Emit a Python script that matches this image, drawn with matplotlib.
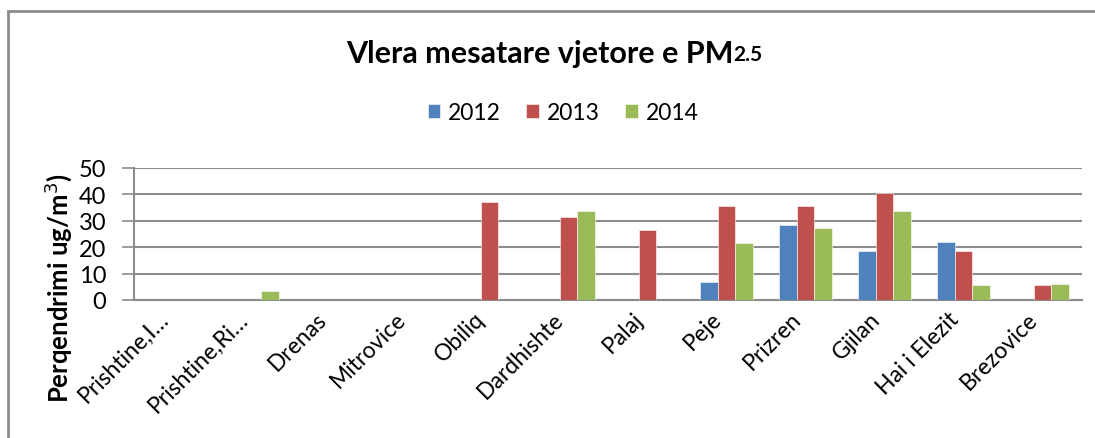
import numpy as np
import matplotlib
matplotlib.use("Agg")
import matplotlib.pyplot as plt
import matplotlib.transforms as mtransforms
from matplotlib.patches import Rectangle

# data
stations = ['Prishtine,I…', 'Prishtine,Ri…', 'Drenas', 'Mitrovice', 'Obiliq',
            'Dardhishte', 'Palaj', 'Peje', 'Prizren', 'Gjilan', 'Hai i Elezit',
            'Brezovice']
years = ['2012', '2013', '2014']
v2012 = [0, 0, 0, 0, 0, 0, 0, 6.9, 28.3, 18.7, 22.0, 0]
v2013 = [0, 0, 0, 0, 37.0, 31.6, 26.4, 35.5, 35.5, 40.5, 18.6, 5.6]
v2014 = [0, 3.5, 0, 0, 0, 33.6, 0, 21.5, 27.4, 33.6, 5.6, 5.9]
colors = ['#4F81BD', '#C0504D', '#9BBB59']

plt.rcParams['font.family'] = ['Lato', 'DejaVu Sans']

W, H = 1095, 439
fig = plt.figure(figsize=(W / 100, H / 100), dpi=100)

# outer chart border (cropped on right/bottom)
fig.patches.append(Rectangle((8 / W, -0.1), 1.2, 1 - 12 / H + 0.1,
                             transform=fig.transFigure, fill=False,
                             edgecolor='#8c8c8c', linewidth=2))

ax = fig.add_axes([134 / W, 1 - 301 / H, (1082 - 134) / W, (301 - 169) / H])

x = np.arange(len(stations))
bw = 0.22
for i, (vals, yr) in enumerate(zip([v2012, v2013, v2014], years)):
    ax.bar(x + (i - 1) * bw, vals, bw, color=colors[i], label=yr,
           edgecolor='white', linewidth=0.4, zorder=3)

ax.set_xlim(-0.5, len(stations) - 0.5)
ax.set_ylim(0, 50)
ax.set_yticks(range(0, 51, 10))
ax.yaxis.grid(True, color='#8c8c8c', linewidth=1.5, zorder=0)
ax.tick_params(axis='y', length=9, width=1.2, color='#8c8c8c', labelsize=17, pad=11)
ax.tick_params(axis='x', length=0, labelsize=16.5, pad=11)
ax.set_xticks(x)
ax.set_xticklabels(stations, rotation=45, ha='right', va='center',
                   rotation_mode='anchor')
shift = mtransforms.ScaledTranslation(-8 / 100, 0, fig.dpi_scale_trans)
for lab in ax.get_xticklabels():
    lab.set_transform(lab.get_transform() + shift)
for s in ['top', 'right']:
    ax.spines[s].set_visible(False)
for s in ['left', 'bottom']:
    ax.spines[s].set_color('#8c8c8c')
    ax.spines[s].set_linewidth(1.5)

fig.text(58 / W, 1 - 288 / H, 'Perqendrimi ug/m$^3$)', rotation=90,
         ha='center', va='center', fontsize=18.5, fontweight='bold')

t = fig.text(540 / W, 1 - 54 / H, 'Vlera mesatare vjetore e PM', ha='center',
             va='center', fontsize=22, fontweight='bold')
ax.annotate('2.5', xy=(1, 0.1), xycoords=t, va='bottom', ha='left',
            fontsize=15, fontweight='bold')

fig.legend(loc='center', bbox_to_anchor=(563 / W, 1 - 114 / H), ncol=3,
           frameon=False, fontsize=16.5, handlelength=0.55, handleheight=0.55,
           handletextpad=0.35, columnspacing=1.1)

fig.savefig('out.png', dpi=100)
